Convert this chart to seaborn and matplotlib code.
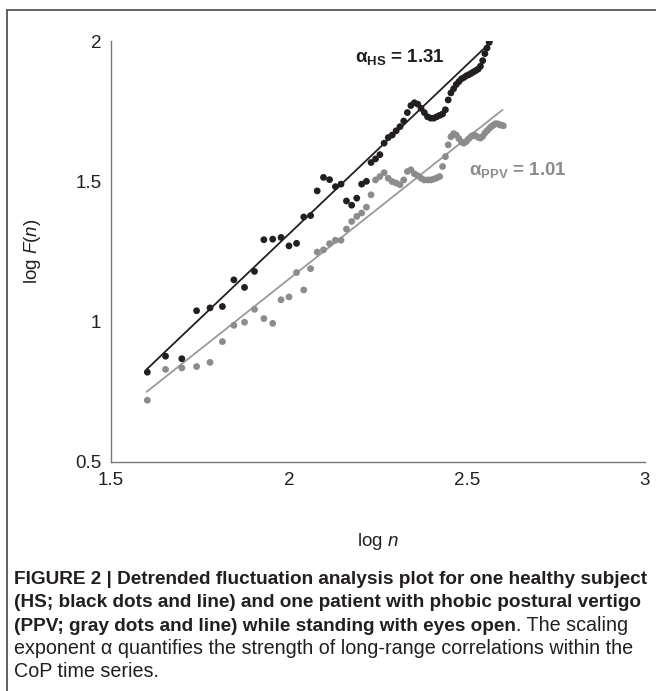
import numpy as np
import pandas as pd
import matplotlib
matplotlib.use('Agg')
import matplotlib.pyplot as plt
import seaborn as sns
from matplotlib.lines import Line2D

sns.set_style('white')
plt.rcParams['font.family'] = ['Liberation Sans', 'DejaVu Sans']
plt.rcParams['mathtext.fontset'] = 'custom'
plt.rcParams['mathtext.rm'] = 'Liberation Sans'
plt.rcParams['mathtext.it'] = 'Liberation Sans:italic'
plt.rcParams['mathtext.bf'] = 'Liberation Sans:bold'

# --- data ---
window_n = [40, 45, 50, 55, 60, 65, 70, 75, 80, 85, 90, 95, 100, 105, 110, 115,
            120, 125, 130, 135, 140, 145, 150, 155, 160, 165, 170, 175, 180, 185,
            190, 195, 200, 205, 210, 215, 220, 225, 230, 235, 240, 245, 250, 255,
            260, 265, 270, 275, 280, 285, 290, 295, 300, 305, 310, 315, 320, 325,
            330, 335, 340, 345, 350, 355, 360, 365, 370, 375, 380, 385, 390, 395, 400]

# healthy subject, log F(n)
hs_logF = [0.820, 0.877, 0.868, 1.039, 1.049, 1.054, 1.149, 1.122, 1.179, 1.292,
           1.294, 1.300, 1.270, 1.279, 1.373, 1.378, 1.466, 1.514, 1.506, 1.481,
           1.490, 1.430, 1.415, 1.440, 1.490, 1.500, 1.567, 1.580, 1.595, 1.636,
           1.656, 1.665, 1.680, 1.695, 1.715, 1.745, 1.770, 1.780, 1.775, 1.760,
           1.745, 1.730, 1.725, 1.725, 1.730, 1.735, 1.740, 1.755, 1.790, 1.815,
           1.830, 1.845, 1.855, 1.865, 1.870, 1.876, 1.880, 1.885, 1.890, 1.895,
           1.900, 1.910, 1.930, 1.955, 1.975, 1.995]

# phobic postural vertigo patient, log F(n)
ppv_logF = [0.720, 0.830, 0.835, 0.840, 0.855, 0.929, 0.987, 0.998, 1.044, 1.011,
            0.994, 1.078, 1.088, 1.175, 1.113, 1.189, 1.248, 1.256, 1.278, 1.290,
            1.290, 1.330, 1.357, 1.375, 1.387, 1.408, 1.452, 1.505, 1.517, 1.531,
            1.511, 1.499, 1.494, 1.488, 1.505, 1.535, 1.541, 1.527, 1.520, 1.511,
            1.505, 1.505, 1.505, 1.508, 1.512, 1.517, 1.553, 1.588, 1.630, 1.659,
            1.670, 1.665, 1.652, 1.640, 1.636, 1.642, 1.652, 1.660, 1.665, 1.662,
            1.657, 1.654, 1.660, 1.672, 1.680, 1.688, 1.695, 1.700, 1.705, 1.705,
            1.702, 1.700, 1.698]

# fitted lines (end points)
hs_fit_x = [1.6, 2.57]
hs_fit_y = [0.83, 2.0]
ppv_fit_x = [1.6, 2.6]
ppv_fit_y = [0.75, 1.755]

x_ticks = [1.5, 2, 2.5, 3]
x_ticklabels = ['1.5', '2', '2.5', '3']
y_ticks = [0.5, 1, 1.5, 2]
y_ticklabels = ['0.5', '1', '1.5', '2']

BLACK = '#231f20'
GRAY = '#8c8c8c'

df_hs = pd.DataFrame({'logn': np.log10(window_n[:len(hs_logF)]), 'logF': hs_logF})
df_ppv = pd.DataFrame({'logn': np.log10(window_n), 'logF': ppv_logF})

fig = plt.figure(figsize=(6.56, 6.91), dpi=100)
ax = fig.add_axes([111/656, 1-462/691, (645-111)/656, (462-41)/691])

sns.lineplot(x=hs_fit_x, y=hs_fit_y, color=BLACK, lw=1.3, ax=ax, zorder=2)
sns.lineplot(x=ppv_fit_x, y=ppv_fit_y, color='#999999', lw=1.3, ax=ax, zorder=2)
sns.scatterplot(data=df_ppv, x='logn', y='logF', color=GRAY, s=24, edgecolor='none', ax=ax, zorder=3)
sns.scatterplot(data=df_hs, x='logn', y='logF', color=BLACK, s=24, edgecolor='none', ax=ax, zorder=3)

ax.set_xlim(1.5, 3)
ax.set_ylim(0.5, 2)
ax.set_xticks(x_ticks)
ax.set_xticklabels(x_ticklabels)
ax.set_yticks(y_ticks)
ax.set_yticklabels(y_ticklabels)
ax.tick_params(direction='in', length=5, width=0.9, color='#777777', labelsize=13.5,
               labelcolor='#231f20', pad=7)
for side in ['top', 'right']:
    ax.spines[side].set_visible(False)
for side in ['left', 'bottom']:
    ax.spines[side].set_color('#777777')
    ax.spines[side].set_linewidth(1.0)

ax.set_xlabel('log $\\mathit{n}$', fontsize=13.5, color='#231f20')
ax.set_ylabel('log $\\mathit{F}$($\\mathit{n}$)', fontsize=13.5, color='#231f20')
ax.xaxis.set_label_coords(0.5, -0.165)
ax.yaxis.set_label_coords(-0.128, 0.5)

ax.text(2.185, 1.943, '$\\mathbf{\\alpha}_{\\mathbf{HS}}$ = 1.31', fontsize=13.5, fontweight='bold',
        color=BLACK, ha='left', va='center')
ax.text(2.506, 1.54, '$\\mathbf{\\alpha}_{\\mathbf{PPV}}$ = 1.01', fontsize=13.5, fontweight='bold',
        color=GRAY, ha='left', va='center')

# frame around figure + caption
fig.add_artist(Line2D([7/656, 7/656], [0, 1-10/691], transform=fig.transFigure, color='#555555', lw=1.3))
fig.add_artist(Line2D([7/656, 1], [1-10/691, 1-10/691], transform=fig.transFigure, color='#555555', lw=1.3))

cap_x = 14/656
bold_size = 13.7
reg_size = 14.2
fig.text(cap_x, 1-584/691, 'FIGURE 2 | Detrended fluctuation analysis plot for one healthy subject',
         fontsize=bold_size, fontweight='bold', color='#231f20', va='baseline')
fig.text(cap_x, 1-607/691, '(HS; black dots and line) and one patient with phobic postural vertigo',
         fontsize=bold_size, fontweight='bold', color='#231f20', va='baseline')
t3 = fig.text(cap_x, 1-631/691, '(PPV; gray dots and line) while standing with eyes open',
              fontsize=bold_size, fontweight='bold', color='#231f20', va='baseline')
ax.annotate('. The scaling', xy=(1, 0), xycoords=t3, fontsize=reg_size, color='#231f20',
            va='bottom', annotation_clip=False)
fig.text(cap_x, 1-654/691, 'exponent \u03b1 quantifies the strength of long-range correlations within the',
         fontsize=reg_size, color='#231f20', va='baseline')
fig.text(cap_x, 1-677/691, 'CoP time series.', fontsize=reg_size, color='#231f20', va='baseline')

fig.savefig('out.png', dpi=100)
